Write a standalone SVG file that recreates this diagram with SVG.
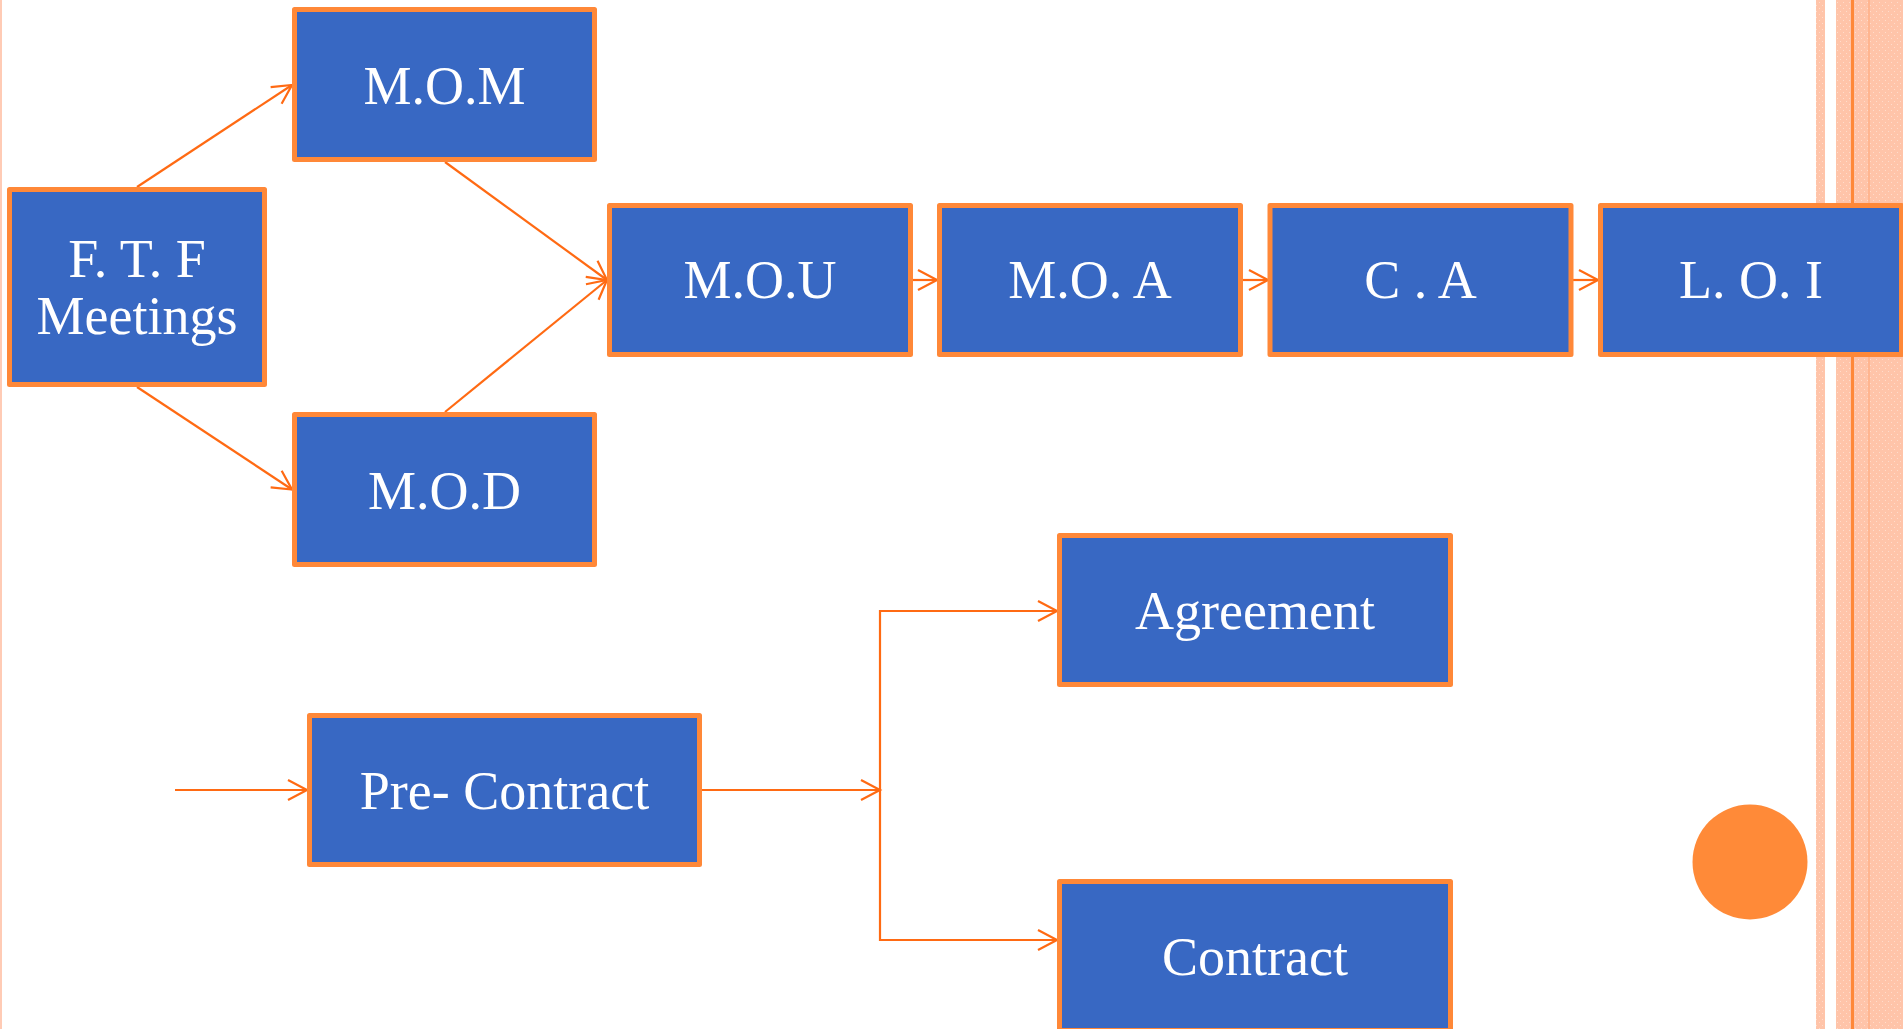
<svg xmlns="http://www.w3.org/2000/svg" width="1903" height="1029" viewBox="0 0 1903 1029">
<style>
.box{fill:#3868C3;stroke:#FF8838;stroke-width:5;stroke-linejoin:round}
.lbl{font-family:"Liberation Serif","Times New Roman",serif;font-size:54px;fill:#FFFFFF;text-anchor:middle}
.con{fill:none;stroke:#FF6A13;stroke-width:2.2}
.stripe{fill:#FFC6AD}
</style>
<defs>
<pattern id="tex" width="6" height="6" patternUnits="userSpaceOnUse">
<rect width="6" height="6" fill="#FFC4A9"/>
<rect x="1" y="2" width="1" height="1" fill="#FFDCCB"/>
<rect x="4" y="5" width="1" height="1" fill="#FFDCCB"/>
</pattern>
<marker id="arr" markerUnits="userSpaceOnUse" markerWidth="24" markerHeight="24" viewBox="-21 -12 24 24" refX="0" refY="0" orient="auto">
<path d="M-19,-10 L0,0 L-19,10" fill="none" stroke="#FF6A13" stroke-width="2.2"/>
</marker>
</defs>
<rect width="1903" height="1029" fill="#FFFFFF"/>
<g id="background">
<rect x="0" y="0" width="2" height="1029" fill="#FFCBB5"/>
<rect x="1816" y="0" width="9" height="1029" fill="url(#tex)"/>
<rect x="1836" y="0" width="67" height="1029" fill="url(#tex)"/>
<rect x="1868" y="0" width="2" height="1029" fill="#FFB58F"/>
<rect x="1851" y="0" width="3" height="1029" fill="#FF8838"/>
<circle cx="1750" cy="862" r="57.5" fill="#FF8A38"/>
</g>
<g id="connectors">
<line class="con" x1="137" y1="187" x2="292" y2="85" marker-end="url(#arr)"/>
<line class="con" x1="137" y1="387" x2="292" y2="489.5" marker-end="url(#arr)"/>
<line class="con" x1="445" y1="162" x2="607" y2="280" marker-end="url(#arr)"/>
<line class="con" x1="445" y1="412" x2="607" y2="280" marker-end="url(#arr)"/>
<line class="con" x1="913" y1="280" x2="937" y2="280" marker-end="url(#arr)"/>
<line class="con" x1="1243" y1="280" x2="1268" y2="280" marker-end="url(#arr)"/>
<line class="con" x1="1573" y1="280" x2="1598" y2="280" marker-end="url(#arr)"/>
<line class="con" x1="175" y1="790" x2="307" y2="790" marker-end="url(#arr)"/>
<line class="con" x1="702" y1="790" x2="880" y2="790" marker-end="url(#arr)"/>
<polyline class="con" points="1057,611 880,611 880,940 1057,940"/>
<line class="con" x1="1000" y1="611" x2="1057" y2="611" marker-end="url(#arr)"/>
<line class="con" x1="1000" y1="940" x2="1057" y2="940" marker-end="url(#arr)"/>
</g>
<g id="node-ftf">
<rect class="box" x="9.5" y="189.5" width="255" height="195"/>
<text class="lbl" x="137" y="277" xml:space="preserve">F. T. F</text>
<text class="lbl" x="137" y="334">Meetings</text>
</g>
<g id="node-mom">
<rect class="box" x="294.5" y="9.5" width="300" height="150"/>
<text class="lbl" x="444.5" y="104">M.O.M</text>
</g>
<g id="node-mod">
<rect class="box" x="294.5" y="414.5" width="300" height="150"/>
<text class="lbl" x="444.5" y="509">M.O.D</text>
</g>
<g id="node-mou">
<rect class="box" x="609.5" y="205.5" width="301" height="149"/>
<text class="lbl" x="760" y="298">M.O.U</text>
</g>
<g id="node-moa">
<rect class="box" x="939.5" y="205.5" width="301" height="149"/>
<text class="lbl" x="1090" y="298" xml:space="preserve">M.O. A</text>
</g>
<g id="node-ca">
<rect class="box" x="1270" y="205.5" width="301" height="149"/>
<text class="lbl" x="1420.5" y="298" xml:space="preserve">C . A</text>
</g>
<g id="node-loi">
<rect class="box" x="1600.5" y="205.5" width="301" height="149"/>
<text class="lbl" x="1751" y="298" xml:space="preserve">L. O. I</text>
</g>
<g id="node-agreement">
<rect class="box" x="1059.5" y="535.5" width="391" height="149"/>
<text class="lbl" x="1255" y="629">Agreement</text>
</g>
<g id="node-precontract">
<rect class="box" x="309.5" y="715.5" width="390" height="149"/>
<text class="lbl" x="504.5" y="809" xml:space="preserve">Pre- Contract</text>
</g>
<g id="node-contract">
<rect class="box" x="1059.5" y="881.5" width="391" height="149"/>
<text class="lbl" x="1255" y="975">Contract</text>
</g>
</svg>
